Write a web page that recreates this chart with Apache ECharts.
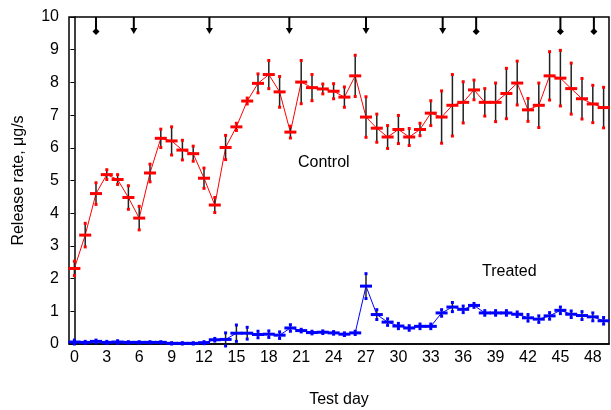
<!DOCTYPE html>
<html lang="en">

<head>
    <meta charset="UTF-8">
    <title>Release rate</title>
    <style>
        body { margin: 0; background: #fff; }
    </style>
</head>

<body>

    <div id="chart" style="width: 611px; height: 410px;"></div>

    <script src="https://cdn.jsdelivr.net/npm/echarts@6/dist/echarts.min.js"></script>
    <script>
        // test days 0..49
        const days = [];
        for (let i = 0; i < 50; i++) days.push(String(i));

        const controlMean = [2.31, 3.33, 4.60, 5.18, 5.03, 4.48, 3.85, 5.23, 6.29, 6.21,
            5.93, 5.82, 5.07, 4.25, 6.01, 6.64, 7.43, 7.97, 8.24, 7.71,
            6.48, 8.01, 7.84, 7.80, 7.73, 7.55, 8.20, 6.94, 6.60, 6.33,
            6.56, 6.33, 6.56, 7.06, 6.94, 7.30, 7.39, 7.77, 7.39, 7.39,
            7.66, 7.98, 7.16, 7.30, 8.20, 8.13, 7.81, 7.50, 7.34, 7.23];
        const controlErr = [0.22, 0.36, 0.33, 0.15, 0.15, 0.36, 0.36, 0.27, 0.28, 0.43,
            0.30, 0.23, 0.31, 0.23, 0.37, 0.11, 0.09, 0.29, 0.43, 0.47,
            0.18, 0.66, 0.40, 0.15, 0.23, 0.31, 0.63, 0.62, 0.43, 0.35,
            0.43, 0.26, 0.19, 0.38, 0.80, 0.94, 0.63, 0.30, 0.42, 0.59,
            0.77, 0.67, 0.35, 0.68, 0.74, 0.85, 0.78, 0.62, 0.57, 0.62];

        const treatedMean = [0.06, 0.05, 0.08, 0.05, 0.06, 0.05, 0.05, 0.05, 0.05, 0.02,
            0.02, 0.02, 0.04, 0.13, 0.14, 0.33, 0.33, 0.29, 0.30, 0.27,
            0.49, 0.41, 0.35, 0.36, 0.34, 0.30, 0.34, 1.77, 0.90, 0.67,
            0.55, 0.49, 0.54, 0.54, 0.95, 1.13, 1.06, 1.18, 0.95, 0.95,
            0.95, 0.91, 0.80, 0.76, 0.86, 1.03, 0.91, 0.87, 0.83, 0.71];
        const treatedErr = [0.06, 0.03, 0.04, 0.03, 0.04, 0.02, 0.02, 0.02, 0.02, 0.02,
            0.02, 0.02, 0.03, 0.04, 0.20, 0.25, 0.18, 0.10, 0.10, 0.10,
            0.10, 0.04, 0.04, 0.04, 0.04, 0.04, 0.05, 0.38, 0.15, 0.10,
            0.08, 0.07, 0.07, 0.07, 0.10, 0.14, 0.10, 0.06, 0.07, 0.07,
            0.07, 0.07, 0.10, 0.10, 0.10, 0.10, 0.10, 0.12, 0.12, 0.10];

        // dosing marks along the top edge (day position, head shape)
        const markDays = [2, 5.5, 12.5, 19.9, 27, 34.1, 37.2, 45, 48.1];
        const markKinds = ['diamond', 'arrow', 'arrow', 'arrow', 'arrow', 'arrow', 'diamond', 'diamond', 'diamond'];

        const yTicks = [0, 1, 2, 3, 4, 5, 6, 7, 8, 9, 10];

        function barData(mean, err) {
            return mean.map(function(m, i) {
                return [i, m, m - err[i], m + err[i]];
            });
        }

        // error bar + horizontal dash marker
        function errorItem(color) {
            return function(params, api) {
                const x = api.value(0);
                const mid = api.coord([x, api.value(1)]);
                const lo = api.coord([x, api.value(2)]);
                const hi = api.coord([x, api.value(3)]);
                return {
                    type: 'group',
                    children: [{
                        type: 'line',
                        shape: { x1: mid[0], y1: lo[1], x2: mid[0], y2: hi[1] },
                        style: { stroke: '#222', lineWidth: 1.5 }
                    }, {
                        type: 'rect',
                        shape: { x: mid[0] - 1.5, y: hi[1] - 1.5, width: 3, height: 3 },
                        style: { fill: color }
                    }, {
                        type: 'rect',
                        shape: { x: mid[0] - 1.5, y: lo[1] - 1.5, width: 3, height: 3 },
                        style: { fill: color }
                    }, {
                        type: 'rect',
                        shape: { x: mid[0] - 6, y: mid[1] - 1.5, width: 12, height: 3 },
                        style: { fill: color }
                    }]
                };
            };
        }

        function markItem(params, api) {
            const top = api.coord([api.value(0), 10]);
            const kind = markKinds[params.dataIndex];
            const x = top[0];
            const y = top[1];
            const children = [{
                type: 'line',
                shape: { x1: x, y1: y, x2: x, y2: y + 12 },
                style: { stroke: '#000', lineWidth: 2 }
            }];
            if (kind === 'arrow') {
                children.push({
                    type: 'polygon',
                    shape: { points: [[x - 3.5, y + 11], [x + 3.5, y + 11], [x, y + 17]] },
                    style: { fill: '#000' }
                });
            } else {
                children.push({
                    type: 'polygon',
                    shape: { points: [[x, y + 11], [x + 3.5, y + 14.5], [x, y + 18], [x - 3.5, y + 14.5]] },
                    style: { fill: '#000' }
                });
            }
            return { type: 'group', children: children };
        }

        const myChart = echarts.init(document.getElementById('chart'))

        const option = {
            animation: false,
            textStyle: { fontFamily: 'Liberation Sans, Arial, sans-serif' },
            grid: {
                left: 69,
                right: 2,
                top: 17,
                bottom: 66,
                outerBoundsMode: 'none',
                containLabel: false,
                show: true,
                borderColor: '#000',
                borderWidth: 1.5
            },
            xAxis: [{
                type: 'category',
                data: days,
                boundaryGap: true,
                name: 'Test day',
                nameLocation: 'middle',
                nameGap: 48,
                nameTextStyle: { fontSize: 16, color: '#000' },
                axisLine: { lineStyle: { color: '#000', width: 1.5 } },
                axisTick: { interval: 0, length: 6, lineStyle: { color: '#555' } },
                axisLabel: { interval: 2, fontSize: 16, color: '#000', margin: 6 },
                splitLine: { show: false }
            }, {
                type: 'value',
                min: -0.5,
                max: 49.5,
                show: false
            }],
            yAxis: {
                type: 'value',
                min: yTicks[0],
                max: yTicks[yTicks.length - 1],
                interval: 1,
                name: 'Release rate, μg/s',
                nameLocation: 'middle',
                nameGap: 42,
                nameTextStyle: { fontSize: 16, color: '#000' },
                axisLine: { show: true, lineStyle: { color: '#000', width: 1.5 } },
                axisTick: { show: true, length: 4, lineStyle: { color: '#000' } },
                axisLabel: { fontSize: 16, color: '#000', margin: 10 },
                splitLine: { show: false }
            },
            graphic: [{
                type: 'text',
                left: 298,
                top: 155,
                style: { text: 'Control', fontSize: 16, fill: '#000', fontFamily: 'Liberation Sans, Arial, sans-serif' }
            }, {
                type: 'text',
                left: 482,
                top: 264,
                style: { text: 'Treated', fontSize: 16, fill: '#000', fontFamily: 'Liberation Sans, Arial, sans-serif' }
            }],
            series: [{
                name: 'Control line',
                type: 'line',
                data: controlMean,
                symbol: 'none',
                lineStyle: { color: '#ff0000', width: 1 },
                z: 2
            }, {
                name: 'Treated line',
                type: 'line',
                data: treatedMean,
                symbol: 'none',
                lineStyle: { color: '#0000ff', width: 1 },
                z: 2
            }, {
                name: 'Control',
                type: 'custom',
                data: barData(controlMean, controlErr),
                renderItem: errorItem('#ff0000'),
                z: 3
            }, {
                name: 'Treated',
                type: 'custom',
                data: barData(treatedMean, treatedErr),
                renderItem: errorItem('#0000ff'),
                z: 3
            }, {
                name: 'Marks',
                type: 'custom',
                xAxisIndex: 1,
                data: markDays.map(function(d) { return [d]; }),
                renderItem: markItem,
                z: 4
            }]
        }

        myChart.setOption(option)
    </script>
</body>

</html>
